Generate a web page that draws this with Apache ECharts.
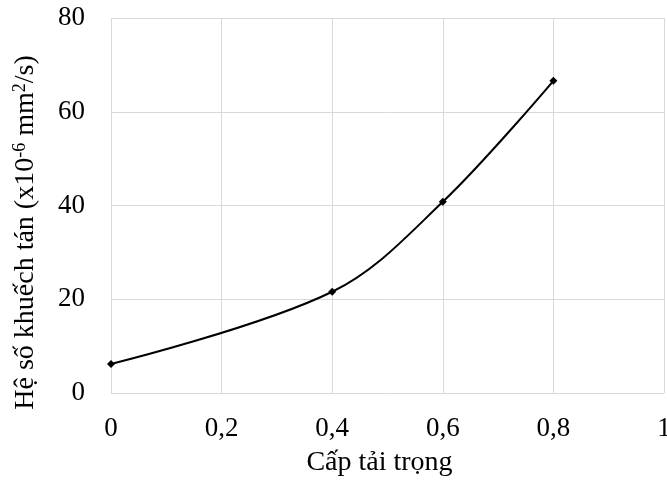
<!DOCTYPE html>
<html>
<head>
<meta charset="utf-8">
<script src="https://cdn.jsdelivr.net/npm/echarts@6/dist/echarts.min.js"></script>
<style>
  html, body { margin: 0; padding: 0; background: #fff; }
  #chart { width: 667px; height: 481px; }
</style>
</head>
<body>
<div id="chart"></div>
<script>
// load levels and diffusion coefficients
var loadLevels = [0, 0.4, 0.6, 0.8];
var diffusion = [6.2, 21.6, 40.8, 66.6];

var xTitle = 'Cấp tải trọng';
var font = '"Liberation Serif", "Times New Roman", serif';

var points = [];
for (var i = 0; i < loadLevels.length; i++) {
  points.push([loadLevels[i], diffusion[i]]);
}

var dom = document.getElementById('chart');
var myChart = echarts.init(dom, null, { renderer: 'canvas' });

var option = {
  animation: false,
  backgroundColor: '#fff',
  grid: {
    left: 111,
    right: 3,
    top: 18,
    bottom: 88,
    outerBoundsMode: 'none'
  },
  xAxis: {
    type: 'value',
    min: 0,
    max: 1,
    interval: 0.2,
    name: xTitle,
    nameLocation: 'middle',
    nameGap: 56,
    nameTextStyle: { fontFamily: font, fontSize: 28, color: '#000', padding: [0, 16, 0, 0] },
    axisLine: { show: false },
    axisTick: { show: false },
    axisLabel: {
      margin: 22,
      fontFamily: font,
      fontSize: 27,
      color: '#000',
      formatter: function (v) { return String(+v.toFixed(1)).replace('.', ','); }
    },
    splitLine: { show: true, lineStyle: { color: '#d9d9d9', width: 1 } }
  },
  yAxis: {
    type: 'value',
    min: 0,
    max: 80,
    interval: 20,
    name: '{t|Hệ số khuếch tán (x10}{s|-6}{t| mm}{s|2}{t|/s)}',
    nameLocation: 'middle',
    nameGap: 70,
    nameTextStyle: {
      padding: [0, 54, 0, 0],
      rich: {
        t: { fontFamily: font, fontSize: 28, color: '#000' },
        s: { fontFamily: font, fontSize: 18, color: '#000', verticalAlign: 'top', padding: [0, 0, 12, 0] }
      }
    },
    axisLine: { show: false },
    axisTick: { show: false },
    axisLabel: {
      margin: 26,
      fontFamily: font,
      fontSize: 27,
      color: '#000'
    },
    splitLine: { show: true, lineStyle: { color: '#d9d9d9', width: 1 } }
  },
  series: [
    {
      type: 'line',
      data: points,
      smooth: 0.35,
      symbol: 'diamond',
      symbolSize: 8,
      itemStyle: { color: '#000' },
      lineStyle: { color: '#000', width: 2 }
    }
  ]
};

myChart.setOption(option);
window.addEventListener('resize', myChart.resize);
</script>
</body>
</html>
